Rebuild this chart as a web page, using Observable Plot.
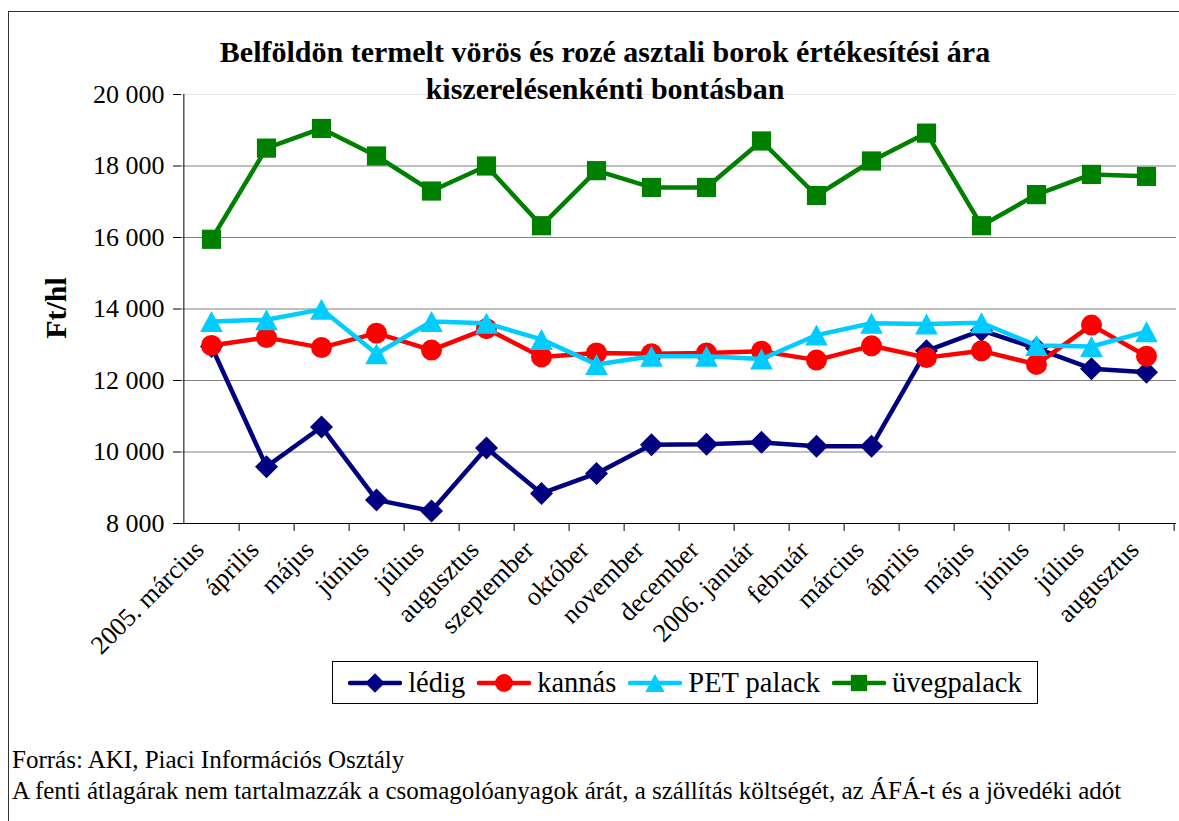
<!DOCTYPE html>
<html><head><meta charset="utf-8">
<script src="https://cdn.jsdelivr.net/npm/d3@7"></script>
<script src="https://cdn.jsdelivr.net/npm/@observablehq/plot@0.6"></script>
<style>
body{margin:0;background:#fff;font-family:"Liberation Serif","Times New Roman",serif;color:#000;}
#wrap{position:relative;width:1179px;height:821px;overflow:hidden;}
#frame{position:absolute;left:8px;top:11px;width:1300px;height:1000px;border:1.5px solid #333;box-sizing:border-box;}
#chart{position:absolute;left:0;top:0;}
#title{position:absolute;left:105px;width:1000px;top:33px;text-align:center;font-weight:bold;font-size:30px;line-height:37px;}
#ylab{position:absolute;left:56px;top:308px;transform:translate(-50%,-50%) rotate(-90deg);font-weight:bold;font-size:30px;white-space:nowrap;}
#legend{position:absolute;left:332px;top:661px;width:706px;height:43px;border:1.5px solid #000;box-sizing:border-box;display:flex;align-items:center;justify-content:center;gap:12px;font-size:28.5px;background:#fff;}
#legend .it{display:flex;align-items:center;gap:6px;}
#foot{position:absolute;left:12px;top:744px;font-size:25px;line-height:31px;white-space:nowrap;}
</style></head>
<body><div id="wrap"><div id="frame"></div><div id="chart"></div>
<div id="title"></div><div id="ylab"></div><div id="legend"></div><div id="foot"></div></div>
<script>
const titleLines = ["Belföldön termelt vörös és rozé asztali borok értékesítési ára", "kiszerelésenkénti bontásban"];
const yLabel = "Ft/hl";
const months = ["2005. március","április","május","június","július","augusztus","szeptember","október","november","december","2006. január","február","március","április","május","június","július","augusztus"];
const ledig  = [12950, 9590, 10700, 8660, 8350, 10110, 8840, 9400, 10200, 10220, 10270, 10160, 10160, 12830, 13400, 12900, 12330, 12230];
const kannas = [12980, 13200, 12920, 13325, 12850, 13450, 12660, 12770, 12750, 12770, 12820, 12570, 12970, 12640, 12830, 12450, 13550, 12680];
const pet    = [13650, 13700, 13990, 12750, 13650, 13600, 13150, 12450, 12680, 12680, 12600, 13270, 13600, 13580, 13615, 12980, 12950, 13365];
const uveg   = [15950, 18500, 19050, 18280, 17300, 18000, 16330, 17870, 17400, 17400, 18700, 17175, 18140, 18920, 16330, 17200, 17765, 17710];
const seriesNames = ["lédig", "kannás", "PET palack", "üvegpalack"];
const yTicks = [8000, 10000, 12000, 14000, 16000, 18000, 20000];
const footLines = ["Forrás: AKI, Piaci Információs Osztály", "A fenti átlagárak nem tartalmazzák a csomagolóanyagok árát, a szállítás költségét, az ÁFÁ-t és a jövedéki adót"];

(function () {
const rOf = size => Math.sqrt(size / Math.PI);
const diamondSym = {draw(c, size){const r = rOf(size); c.moveTo(0,-r); c.lineTo(r,0); c.lineTo(0,r); c.lineTo(-r,0); c.closePath();}};
const squareSym = {draw(c, size){const r = rOf(size); c.rect(-r,-r,2*r,2*r);}};
const triSym = {draw(c, size){const r = rOf(size); const w = r*1.08; c.moveTo(0,-r); c.lineTo(w,r); c.lineTo(-w,r); c.closePath();}};
const circleSym = {draw(c, size){const r = rOf(size); c.moveTo(r,0); c.arc(0,0,r,0,2*Math.PI);}};

const series = [
  {name: seriesNames[0], values: ledig,  color: "#000080", symbol: diamondSym, r: 11.5},
  {name: seriesNames[1], values: kannas, color: "#FF0000", symbol: circleSym,  r: 10.5},
  {name: seriesNames[2], values: pet,    color: "#00CCFF", symbol: triSym,     r: 10.5},
  {name: seriesNames[3], values: uveg,   color: "#008000", symbol: squareSym,  r: 9.6}
];

const W = 1179, H = 821, mLeft = 181, mRight = 1176, mTop = 94, mBottom = 523;
const idx = d3.range(months.length);
const step = (mRight - mLeft) / months.length, half = step / 2;
const fmt = d => d3.format(",")(d).replace(/,/g, " ");

const marks = [
  Plot.ruleY(yTicks.filter(t => t > yTicks[0] && t < yTicks[yTicks.length-1]), {stroke: "#808080", strokeWidth: 1}),
  Plot.ruleY([yTicks[yTicks.length-1]], {stroke: "#e4e4e4", strokeWidth: 1}),
  Plot.axisY(yTicks, {tickSize: 8, tickPadding: 9, tickFormat: fmt, fontSize: 26, label: null, stroke: "#000"}),
  Plot.axisX(idx, {tickSize: 8, text: null, dx: half, label: null, stroke: "#000"}),
  Plot.axisX(idx, {tickSize: 0, tickRotate: -45, tickPadding: 22, dx: -12, tickFormat: i => months[i], fontSize: 26, label: null}),
  Plot.ruleY([yTicks[0]], {stroke: "#000", strokeWidth: 1}),
  Plot.ruleX([idx[0]], {dx: -half, stroke: "#000", strokeWidth: 1})
];
for (const s of series) {
  const rows = idx.map(i => ({i, v: s.values[i]}));
  marks.push(Plot.line(rows, {x: "i", y: "v", stroke: s.color, strokeWidth: 4.5, strokeLinejoin: "miter"}));
  marks.push(Plot.dot(rows, {x: "i", y: "v", fill: s.color, stroke: "none", symbol: s.symbol, r: s.r}));
}

const chart = Plot.plot({
  width: W, height: H,
  marginLeft: mLeft, marginRight: W - mRight, marginTop: mTop, marginBottom: H - mBottom,
  x: {type: "point", domain: idx, padding: 0.5},
  y: {domain: [yTicks[0], yTicks[yTicks.length-1]]},
  style: {fontFamily: '"Liberation Serif","Times New Roman",serif', color: "#000", background: "transparent", overflow: "visible"},
  marks
});
document.getElementById("chart").appendChild(chart);

document.getElementById("title").innerHTML = titleLines.join("<br>");
document.getElementById("ylab").textContent = yLabel;
document.getElementById("foot").innerHTML = footLines.join("<br>");

const leg = document.getElementById("legend");
for (const s of series) {
  const it = document.createElement("div"); it.className = "it";
  const sw = d3.create("svg").attr("width", 54).attr("height", 24);
  sw.append("line").attr("x1", 2).attr("x2", 52).attr("y1", 12).attr("y2", 12).attr("stroke", s.color).attr("stroke-width", 4.5).attr("stroke-linecap", "round");
  sw.append("path").attr("transform", "translate(27,12)").attr("fill", s.color).attr("d", d3.symbol(s.symbol, Math.PI * (s.r*0.85) ** 2)());
  it.appendChild(sw.node());
  const t = document.createElement("span"); t.textContent = s.name; it.appendChild(t);
  leg.appendChild(it);
}
})();
</script></body></html>
